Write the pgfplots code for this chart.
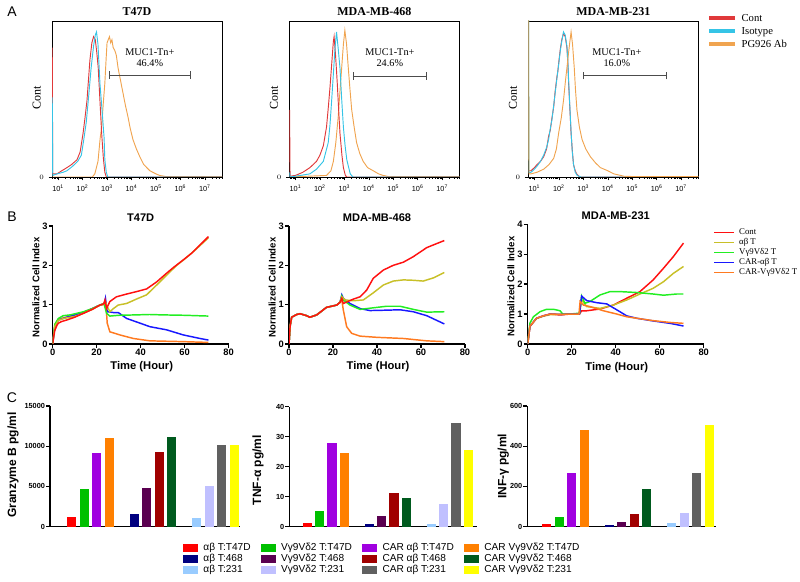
\documentclass[border=0pt]{standalone}
\usepackage{fontspec}
\setmainfont{Liberation Sans}
\newfontfamily\serif{Liberation Serif}
\usepackage{pgfplots}
\pgfplotsset{compat=1.18}

% flow histograms
\definecolor{fRed}{HTML}{E0393A}
\definecolor{fCyan}{HTML}{35C4E6}
\definecolor{fOrange}{HTML}{F0A450}
% impedance curves
\definecolor{lRed}{HTML}{FF1010}
\definecolor{lYellow}{HTML}{C8C028}
\definecolor{lGreen}{HTML}{22EE22}
\definecolor{lBlue}{HTML}{1818FF}
\definecolor{lOrange}{HTML}{FF7A20}
% cytokine bars
\definecolor{c1}{HTML}{FF0000}
\definecolor{c2}{HTML}{00C000}
\definecolor{c3}{HTML}{A000E0}
\definecolor{c4}{HTML}{FF8000}
\definecolor{c5}{HTML}{000080}
\definecolor{c6}{HTML}{5A0050}
\definecolor{c7}{HTML}{A00000}
\definecolor{c8}{HTML}{005A1E}
\definecolor{c9}{HTML}{99CCFF}
\definecolor{c10}{HTML}{C0C0FF}
\definecolor{c11}{HTML}{606060}
\definecolor{c12}{HTML}{FFFF00}

\pgfplotsset{
  flow/.style={
    scale only axis, width=127.5pt, height=117pt,
    xmin=0.75, xmax=7.7, ymin=0, ymax=100,
    xtick={1,...,7},
    xticklabels={10\textsuperscript{1},10\textsuperscript{2},10\textsuperscript{3},10\textsuperscript{4},10\textsuperscript{5},10\textsuperscript{6},10\textsuperscript{7}},
    minor xtick={0.778,0.845,0.903,0.954,
      1.301,1.477,1.602,1.699,1.778,1.845,1.903,1.954,
      2.301,2.477,2.602,2.699,2.778,2.845,2.903,2.954,
      3.301,3.477,3.602,3.699,3.778,3.845,3.903,3.954,
      4.301,4.477,4.602,4.699,4.778,4.845,4.903,4.954,
      5.301,5.477,5.602,5.699,5.778,5.845,5.903,5.954,
      6.301,6.477,6.602,6.699,6.778,6.845,6.903,6.954,
      7.301,7.477,7.602,7.699},
    ytick={0},
    xtick pos=lower, ytick pos=left, tick align=outside,
    major tick length=2.5pt, minor tick length=1.5pt,
    tick style={black, line width=0.4pt},
    ticklabel style={font=\fontsize{5.5}{6}\selectfont},
    axis line style={line width=0.7pt},
    title style={font=\serif\fontsize{9}{10}\selectfont\bfseries, at={(0.5,1)}, anchor=center, yshift=0.75pt},
    ylabel={Cont},
    ylabel style={font=\serif\fontsize{9}{10}\selectfont, at={(axis description cs:-0.09,0.51)}, anchor=center},
    every axis plot/.append style={line width=0.7pt},
  },
  lineax/.style={
    scale only axis, width=132pt, height=88.5pt,
    xmin=0, xmax=80, ymin=0,
    xtick={0,20,40,60,80},
    axis x line*=bottom, axis y line*=left,
    x axis line style={-}, y axis line style={-},
    axis line style={line width=1pt},
    tick align=outside, major tick length=3pt,
    tick style={black, line width=1pt},
    ticklabel style={font=\fontsize{7}{8}\selectfont\bfseries, inner sep=0.6pt},
    /pgf/number format/assume math mode=true,
    xlabel={Time (Hour)}, ylabel={Normalized Cell Index},
    xlabel style={font=\fontsize{8.4}{10}\selectfont\bfseries, at={(axis description cs:0.506,-0.195)}, anchor=center},
    ylabel style={font=\fontsize{7.2}{8}\selectfont\bfseries, at={(axis description cs:-0.095,0.48)}, anchor=center},
    title style={font=\fontsize{8.3}{10}\selectfont\bfseries, at={(0.5,1)}, anchor=center, yshift=0.3pt},
    every axis plot/.append style={line width=1.1pt},
  },
  barax/.style={
    scale only axis, height=90.5pt, ymin=0,
    axis x line*=bottom, axis y line*=left,
    x axis line style={-}, y axis line style={-},
    axis line style={line width=1pt},
    xtick=\empty, tick align=outside, major tick length=3pt,
    tick style={black, line width=1pt},
    ticklabel style={font=\fontsize{5.5}{6.5}\selectfont\bfseries, inner sep=0.6pt},
    /pgf/number format/assume math mode=true,
    scaled y ticks=false, /pgf/number format/1000 sep={},
    ylabel style={font=\fontsize{9}{10}\selectfont\bfseries, anchor=center},
  },
  cbar/.style={ybar, bar width=0.75, bar shift=0pt, draw=none, fill=#1,
    legend image code/.code={\fill[fill=#1] (0pt,-3pt) rectangle (11.25pt,3pt);}},
}

\begin{document}
\begin{tikzpicture}
\useasboundingbox (0,0) rectangle (600pt,436.5pt);

\node[font=\fontsize{10.5}{12}\selectfont] at (9pt,427.5pt) {A};
\node[font=\fontsize{10.5}{12}\selectfont] at (9pt,273.75pt) {B};
\node[font=\fontsize{10.5}{12}\selectfont] at (9pt,138pt) {C};

% ---------------- A: flow cytometry ----------------
\begin{axis}[flow, at={(39pt,303.75pt)}, title={T47D}]
\addplot[fOrange] coordinates {(0.76,0) (2.4,0) (2.5,2) (2.63,10) (2.72,25) (2.78,32) (2.85,48) (2.91,60) (2.96,75) (3.0,86) (3.05,88) (3.1,90) (3.15,86) (3.2,88) (3.25,83) (3.32,81) (3.38,78) (3.45,70) (3.55,62) (3.65,54) (3.75,46) (3.85,39) (3.95,31) (4.06,24) (4.2,18) (4.34,13) (4.5,8) (4.75,4) (5.0,2) (5.15,1) (5.4,0.3) (7.7,0.3)};
\addplot[fRed] coordinates {(0.76,83) (0.78,2) (0.95,2) (1.15,4) (1.36,6) (1.55,8) (1.77,11) (1.9,16) (2.02,28) (2.1,38) (2.18,49) (2.3,75) (2.38,86) (2.45,90) (2.52,88) (2.58,80) (2.64,70) (2.7,52) (2.78,28) (2.85,12) (2.91,3) (2.97,0) (7.7,0)};
\addplot[fCyan] coordinates {(0.76,51) (0.78,1) (0.95,2) (1.2,3) (1.36,4) (1.6,7) (1.8,10) (1.95,14) (2.05,24) (2.15,35) (2.25,52) (2.35,70) (2.45,84) (2.52,91) (2.57,93) (2.63,85) (2.71,60) (2.8,42) (2.88,25) (2.91,11) (2.97,3) (3.03,0) (7.7,0)};
\draw[gray!60!black, line width=0.6pt] (axis cs:3.08,65.4) -- (axis cs:6.42,65.4);
\draw[gray!60!black, line width=0.6pt] (axis cs:3.08,63) -- (axis cs:3.08,67.8);
\draw[gray!60!black, line width=0.6pt] (axis cs:6.42,63) -- (axis cs:6.42,67.8);
\node[font=\serif\fontsize{7.7}{8.3}\selectfont, align=center] at (axis cs:4.75,76.5) {MUC1-Tn+\\46.4\%};
\end{axis}

\begin{axis}[flow, at={(217pt,303.75pt)}, title={MDA-MB-468}]
\addplot[fOrange] coordinates {(0.76,0) (2.27,1) (2.45,4) (2.55,10) (2.65,22) (2.75,39) (2.82,55) (2.89,70) (2.96,85) (3.02,94) (3.09,85) (3.16,70) (3.23,56) (3.3,43) (3.4,32) (3.5,22) (3.63,15) (3.77,10) (3.95,6) (4.18,4) (4.4,2) (4.59,1) (4.8,0.3) (7.7,0.3)};
\addplot[fRed] coordinates {(0.76,43) (0.78,0.5) (1.0,1) (1.3,3) (1.59,6) (1.86,10) (2.0,14) (2.14,20) (2.27,32) (2.34,44) (2.41,57) (2.48,72) (2.55,87) (2.58,90) (2.64,78) (2.71,60) (2.77,42) (2.82,28) (2.9,14) (2.96,6) (3.04,1) (3.1,0) (7.7,0)};
\addplot[fCyan] coordinates {(0.76,3) (0.78,0) (1.2,1) (1.59,2) (1.86,5) (2.14,10) (2.34,22) (2.41,33) (2.48,49) (2.55,66) (2.61,81) (2.68,93) (2.75,82) (2.82,70) (2.89,50) (2.96,32) (3.03,20) (3.1,11) (3.24,2) (3.35,0) (7.7,0)};
\draw[gray!60!black, line width=0.6pt] (axis cs:3.35,64.7) -- (axis cs:6.37,64.7);
\draw[gray!60!black, line width=0.6pt] (axis cs:3.35,62.3) -- (axis cs:3.35,67.1);
\draw[gray!60!black, line width=0.6pt] (axis cs:6.37,62.3) -- (axis cs:6.37,67.1);
\node[font=\serif\fontsize{7.7}{8.3}\selectfont, align=center] at (axis cs:4.86,76.5) {MUC1-Tn+\\24.6\%};
\end{axis}

\begin{axis}[flow, at={(396.2pt,303.75pt)}, title={MDA-MB-231},
  legend style={at={(1.051,1.054)}, anchor=north west, draw=none, fill=none, inner sep=0pt,
    font=\serif\fontsize{8}{9}\selectfont, row sep=1.45pt,
    nodes={inner sep=0.3pt, text height=6pt, text depth=1.7pt},
    /tikz/every odd column/.append style={column sep=3pt}},
  legend cell align=left,
  legend image code/.code={\draw[#1, line width=3pt] (0pt,0pt) -- (19.5pt,0pt);}]
\addplot[fRed] coordinates {(0.76,4) (0.86,4) (1.0,6) (1.11,8) (1.25,10) (1.38,13) (1.5,18) (1.58,26) (1.65,30) (1.72,38) (1.79,45) (1.85,55) (1.92,64) (1.96,68) (2.0,74) (2.06,82) (2.12,88) (2.19,92) (2.26,90) (2.33,83) (2.37,72) (2.4,60) (2.45,44) (2.5,28) (2.55,17) (2.6,8) (2.67,4) (2.73,2) (2.85,0) (7.7,0)};
\addlegendentry{Cont}
\addplot[fCyan] coordinates {(0.76,110) (0.78,3) (0.86,3) (1.0,5) (1.11,7) (1.25,10) (1.38,14) (1.5,19) (1.58,24) (1.65,31) (1.72,37) (1.79,46) (1.85,54) (1.92,63) (2.0,73) (2.06,81) (2.12,87) (2.19,93) (2.26,91) (2.33,84) (2.37,74) (2.4,62) (2.45,45) (2.5,29) (2.55,16) (2.6,8) (2.67,3) (2.75,1) (2.9,0) (7.7,0)};
\addlegendentry{Isotype}
\addplot[fOrange] coordinates {(0.76,110) (0.78,2) (0.86,2) (1.1,3) (1.38,5) (1.6,8) (1.79,12) (1.9,18) (1.99,28) (2.1,38) (2.19,49) (2.26,60) (2.33,70) (2.4,80) (2.46,88) (2.5,93) (2.56,85) (2.63,70) (2.68,56) (2.74,43) (2.84,32) (2.95,24) (3.1,18) (3.29,13) (3.5,9) (3.7,6) (4.0,4) (4.25,2) (4.66,0.5) (5.0,0.3) (7.7,0.3)};
\addlegendentry{PG926 Ab}
\draw[gray!60!black, line width=0.6pt] (axis cs:3.02,65) -- (axis cs:6.41,65);
\draw[gray!60!black, line width=0.6pt] (axis cs:3.02,62.6) -- (axis cs:3.02,67.4);
\draw[gray!60!black, line width=0.6pt] (axis cs:6.41,62.6) -- (axis cs:6.41,67.4);
\node[font=\serif\fontsize{7.7}{8.3}\selectfont, align=center] at (axis cs:4.37,76.5) {MUC1-Tn+\\16.0\%};
\end{axis}

% ---------------- B: cell index ----------------
\begin{axis}[lineax, at={(39.5pt,178.5pt)}, title={T47D}, ymax=3, ytick={0,1,2,3}]
\addplot[lOrange] coordinates {(0,0) (1,0.5) (2.6,0.63) (6,0.68) (14,0.8) (18,0.9) (21.5,0.99) (23.3,1.0) (24.2,1.03) (24.8,0.53) (26,0.31) (30.6,0.23) (36.7,0.14) (44.2,0.08) (59.4,0.06) (70.8,0.04)};
\addplot[lBlue] coordinates {(0,0) (1,0.45) (2.6,0.61) (6.4,0.68) (14,0.8) (18,0.9) (21.5,0.99) (23.5,1.03) (24,1.16) (24.8,0.82) (27.6,0.8) (29.8,0.8) (33.6,0.65) (39.7,0.53) (44.2,0.44) (51.8,0.36) (59.4,0.23) (67,0.14) (70.8,0.1)};
\addplot[lGreen] coordinates {(0,0) (1,0.5) (2.6,0.65) (4.8,0.72) (8,0.74) (14,0.82) (18,0.9) (21.5,0.99) (23.3,1.03) (24.5,0.78) (26,0.71) (30,0.73) (38,0.74) (44,0.75) (50,0.74) (60,0.73) (70.8,0.71)};
\addplot[lYellow] coordinates {(0,0) (1,0.45) (2.6,0.6) (5,0.65) (10,0.7) (14,0.78) (18,0.88) (21.5,0.99) (23.3,1.02) (24,1.08) (24.5,0.99) (26,0.82) (27.6,0.9) (29.8,0.99) (33.6,1.03) (38,1.14) (42.7,1.25) (47.3,1.5) (51.8,1.75) (56.4,2.0) (60,2.16) (65,2.4) (70.8,2.7)};
\addplot[lRed] coordinates {(0,0) (0.5,0.2) (1,0.35) (2,0.48) (2.6,0.53) (4,0.57) (6.4,0.61) (10,0.68) (14,0.78) (18,0.88) (21.5,0.99) (23.2,1.02) (23.8,1.12) (24.5,0.9) (26,1.08) (29,1.2) (33.6,1.27) (38,1.33) (42.7,1.4) (47.3,1.58) (51.8,1.8) (55,1.95) (59.4,2.14) (63,2.3) (67,2.52) (70.8,2.73)};
\end{axis}

\begin{axis}[lineax, at={(216.75pt,178.5pt)}, title={MDA-MB-468}, ymax=3, ytick={0,1,2,3}]
\addplot[lOrange] coordinates {(0,0) (0.5,0.45) (1.2,0.68) (3.5,0.75) (5,0.77) (8,0.72) (9.5,0.68) (12.6,0.74) (17,0.93) (21.7,0.99) (23.2,1.06) (24,1.12) (24.7,0.86) (26.2,0.44) (28.5,0.27) (32.3,0.2) (39.8,0.17) (52,0.14) (62.6,0.08) (70.6,0.06)};
\addplot[lBlue] coordinates {(0,0) (0.5,0.45) (1.2,0.68) (3.5,0.75) (5,0.77) (8,0.72) (9.5,0.68) (12.6,0.74) (17,0.93) (21.7,0.99) (23.2,1.06) (24,1.25) (24.7,1.16) (27.7,1.03) (32.3,0.9) (36.8,0.85) (44.4,0.86) (50.5,0.87) (56.5,0.82) (62.6,0.72) (70.6,0.51)};
\addplot[lGreen] coordinates {(0,0) (0.5,0.45) (1.2,0.68) (3.5,0.75) (5,0.77) (8,0.72) (9.5,0.68) (12.6,0.74) (17,0.93) (21.7,0.99) (23.2,1.06) (24,1.22) (24.7,1.12) (27.7,0.99) (32.3,0.88) (38.3,0.92) (44.4,0.96) (50.5,0.96) (56.5,0.88) (62.6,0.81) (70.6,0.82)};
\addplot[lYellow] coordinates {(0,0) (0.5,0.45) (1.2,0.68) (3.5,0.75) (5,0.77) (8,0.72) (9.5,0.68) (12.6,0.74) (17,0.93) (21.7,0.99) (23.2,1.06) (24,1.2) (25.5,1.12) (29.2,1.1) (33.8,1.12) (38.3,1.3) (42.9,1.5) (47.4,1.6) (52,1.63) (56.5,1.62) (61,1.6) (65.6,1.68) (70.6,1.82)};
\addplot[lRed] coordinates {(0,0) (0.5,0.45) (1.2,0.68) (3.5,0.75) (5,0.77) (8,0.72) (9.5,0.68) (12.6,0.74) (17,0.93) (21.7,0.99) (23.2,1.06) (24,1.16) (24.7,1.03) (29.2,1.14) (32.3,1.2) (35.3,1.37) (38.3,1.67) (42.9,1.88) (47.4,2.0) (52,2.08) (56.5,2.22) (62.6,2.45) (67,2.55) (70.6,2.63)};
\end{axis}

\begin{axis}[lineax, at={(395.8pt,178.5pt)}, height=89.8pt, title={MDA-MB-231}, ymax=4, ytick={0,1,2,3,4},
  legend style={at={(1.053,0.973)}, anchor=north west, draw=none, fill=none, inner sep=0pt,
    font=\serif\fontsize{6.6}{7.5}\selectfont, row sep=0.7pt,
    nodes={inner sep=0.3pt, text height=4.8pt, text depth=1.4pt},
    /tikz/every odd column/.append style={column sep=3pt}},
  legend cell align=left,
  legend image code/.code={\draw[#1, line width=1.1pt] (0pt,0pt) -- (15pt,0pt);}]
\addplot[lRed] coordinates {(0,0) (1,0.58) (4,0.86) (7.1,0.94) (10.2,1.0) (14.7,0.97) (19.2,1.0) (23.5,1.0) (24.5,1.11) (26.8,1.11) (32.9,1.17) (38.9,1.3) (45,1.53) (51,1.75) (57,2.14) (61.7,2.53) (66.2,2.92) (70.8,3.37)};
\addlegendentry{Cont}
\addplot[lYellow] coordinates {(0,0) (1,0.6) (4,0.85) (7.1,0.93) (10.2,0.98) (15,0.99) (20,1.0) (23.5,1.0) (24.5,1.47) (26.8,1.25) (32.9,1.19) (38.9,1.3) (45,1.47) (51,1.67) (57,1.86) (61.7,2.08) (66.2,2.36) (70.8,2.59)};
\addlegendentry{αβ T}
\addplot[lGreen] coordinates {(0,0) (1,0.7) (2.6,0.91) (5.6,1.08) (8.6,1.16) (11.7,1.16) (14.7,1.11) (15.9,1.0) (19.2,1.0) (23.5,1.03) (24.5,1.6) (26,1.36) (28.3,1.42) (32.9,1.64) (37.4,1.75) (42,1.75) (49.5,1.72) (57,1.67) (61.7,1.63) (67.7,1.67) (70.8,1.67)};
\addlegendentry{Vγ9Vδ2 T}
\addplot[lBlue] coordinates {(0,0) (1,0.6) (4,0.86) (7.1,0.94) (10.2,1.0) (15,0.99) (20,1.0) (23.5,1.0) (24.5,1.6) (26.8,1.45) (31.4,1.38) (35.9,1.34) (40.5,1.14) (45,0.94) (49.5,0.86) (57,0.77) (64.7,0.69) (70.8,0.6)};
\addlegendentry{CAR-αβ T}
\addplot[lOrange] coordinates {(0,0) (1,0.6) (4,0.86) (7.1,0.94) (10.2,1.0) (15,0.99) (20,1.0) (23.3,1.0) (23.8,1.42) (25.3,1.3) (28.3,1.25) (34.4,1.11) (40.5,1.0) (45,0.91) (49.5,0.86) (57,0.78) (64.7,0.72) (70.8,0.69)};
\addlegendentry{CAR-Vγ9Vδ2 T}
\end{axis}

% ---------------- C: cytokines ----------------
\begin{axis}[barax, at={(37.5pt,41.5pt)}, width=142.5pt, xmin=-1.74, xmax=13.46,
  ymax=15000, ytick={0,5000,10000,15000},
  ylabel={Granzyme B pg/ml}, ylabel style={at={(axis description cs:-0.195,0.51)}}]
\addplot[cbar=c1] coordinates {(0,1250)};
\addplot[cbar=c2] coordinates {(1,4680)};
\addplot[cbar=c3] coordinates {(2,9120)};
\addplot[cbar=c4] coordinates {(3,11060)};
\addplot[cbar=c5] coordinates {(5,1530)};
\addplot[cbar=c6] coordinates {(6,4770)};
\addplot[cbar=c7] coordinates {(7,9280)};
\addplot[cbar=c8] coordinates {(8,11100)};
\addplot[cbar=c9] coordinates {(10,1080)};
\addplot[cbar=c10] coordinates {(11,5100)};
\addplot[cbar=c11] coordinates {(12,10150)};
\addplot[cbar=c12] coordinates {(13,10110)};
\end{axis}

\begin{axis}[barax, at={(217pt,41.5pt)}, width=140.5pt, height=90pt, xmin=-1.45, xmax=13.66,
  ymax=40, ytick={0,10,20,30,40},
  ylabel={TNF-α pg/ml}, ylabel style={at={(axis description cs:-0.167,0.47)}},
  legend columns=4, legend cell align=left,
  legend style={at={(-0.567,-0.135)}, anchor=north west, draw=none, fill=none, inner sep=0pt,
    font=\fontsize{7.6}{8}\selectfont, row sep=0.65pt,
    nodes={inner sep=0.3pt, text height=5.5pt, text depth=1.5pt},
    /tikz/every odd column/.append style={column sep=3.5pt},
    /tikz/every even column/.append style={column sep=7.5pt}}]
\addplot[cbar=c1] coordinates {(0,1.1)};
\addlegendentry{αβ T:T47D}
\addplot[cbar=c2] coordinates {(1,5.3)};
\addlegendentry{Vγ9Vδ2 T:T47D}
\addplot[cbar=c3] coordinates {(2,28.0)};
\addlegendentry{CAR αβ T:T47D}
\addplot[cbar=c4] coordinates {(3,24.4)};
\addlegendentry{CAR Vγ9Vδ2 T:T47D}
\addplot[cbar=c5] coordinates {(5,0.8)};
\addlegendentry{αβ T:468}
\addplot[cbar=c6] coordinates {(6,3.7)};
\addlegendentry{Vγ9Vδ2 T:468}
\addplot[cbar=c7] coordinates {(7,11.3)};
\addlegendentry{CAR αβ T:468}
\addplot[cbar=c8] coordinates {(8,9.7)};
\addlegendentry{CAR Vγ9Vδ2 T:468}
\addplot[cbar=c9] coordinates {(10,0.8)};
\addlegendentry{αβ T:231}
\addplot[cbar=c10] coordinates {(11,7.4)};
\addlegendentry{Vγ9Vδ2 T:231}
\addplot[cbar=c11] coordinates {(12,34.7)};
\addlegendentry{CAR αβ T:231}
\addplot[cbar=c12] coordinates {(13,25.6)};
\addlegendentry{CAR Vγ9Vδ2 T:231}
\end{axis}

\begin{axis}[barax, at={(395.5pt,41.5pt)}, width=141.5pt, xmin=-1.55, xmax=13.54,
  ymax=600, ytick={0,200,400,600},
  ylabel={INF-γ pg/ml}, ylabel style={at={(axis description cs:-0.128,0.5)}}]
\addplot[cbar=c1] coordinates {(0,13)};
\addplot[cbar=c2] coordinates {(1,46)};
\addplot[cbar=c3] coordinates {(2,267)};
\addplot[cbar=c4] coordinates {(3,482)};
\addplot[cbar=c5] coordinates {(5,10)};
\addplot[cbar=c6] coordinates {(6,23)};
\addplot[cbar=c7] coordinates {(7,65)};
\addplot[cbar=c8] coordinates {(8,186)};
\addplot[cbar=c9] coordinates {(10,17)};
\addplot[cbar=c10] coordinates {(11,70)};
\addplot[cbar=c11] coordinates {(12,268)};
\addplot[cbar=c12] coordinates {(13,504)};
\end{axis}
\end{tikzpicture}
\end{document}
